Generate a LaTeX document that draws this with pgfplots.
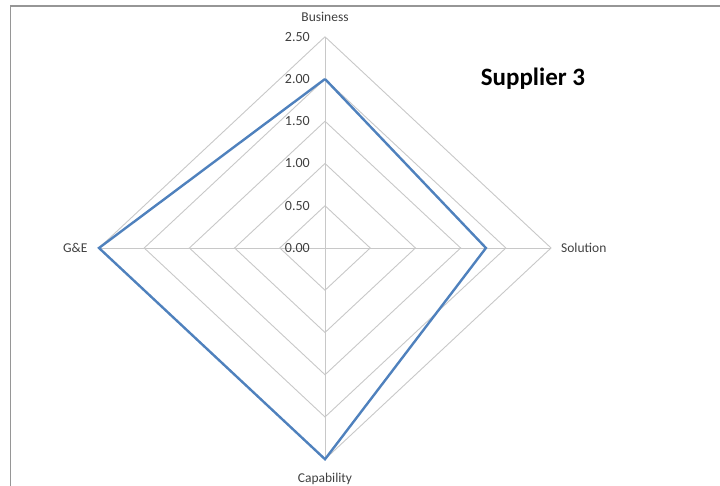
\documentclass[border=0pt]{standalone}
\usepackage{pgfplots}
\pgfplotsset{compat=1.18}
\usepackage{fontspec}
\setmainfont{Carlito}
\definecolor{serblue}{RGB}{79,129,189}
\definecolor{gridgray}{RGB}{200,200,200}
\definecolor{framegray}{RGB}{150,150,150}
\definecolor{txt}{RGB}{64,64,64}
\tikzset{
  tl/.style={anchor=east, text=txt, font=\fontsize{14bp}{16bp}\selectfont, inner sep=0pt},
  cl/.style={text=txt, font=\fontsize{13.5bp}{16bp}\selectfont, inner sep=0pt},
}
\begin{document}
\begin{tikzpicture}
\begin{axis}[
  scale only axis, width=720bp, height=486bp,
  xmin=-3.595, xmax=4.369, ymin=-2.817, ymax=2.935,
  hide axis, clip=false,
]
% frame (top and left edges)
\addplot[framegray, line width=1.5bp] coordinates {(-3.479,-2.817) (-3.479,2.864) (4.369,2.864)};
% grid diamonds
\addplot[gridgray, line width=0.9bp] coordinates {(0,0.5) (0.5,0) (0,-0.5) (-0.5,0) (0,0.5)};
\addplot[gridgray, line width=0.9bp] coordinates {(0,1.0) (1.0,0) (0,-1.0) (-1.0,0) (0,1.0)};
\addplot[gridgray, line width=0.9bp] coordinates {(0,1.5) (1.5,0) (0,-1.5) (-1.5,0) (0,1.5)};
\addplot[gridgray, line width=0.9bp] coordinates {(0,2.0) (2.0,0) (0,-2.0) (-2.0,0) (0,2.0)};
\addplot[gridgray, line width=0.9bp] coordinates {(0,2.5) (2.5,0) (0,-2.5) (-2.5,0) (0,2.5)};
% spokes
\addplot[gridgray, line width=0.9bp] coordinates {(0,2.5) (0,-2.5)};
\addplot[gridgray, line width=0.9bp] coordinates {(-2.5,0) (2.5,0)};
% data: Business, Solution, Capability, G&E
\addplot[serblue, line width=2.4bp, line join=miter] coordinates {(0,2.0) (1.78,0) (0,-2.5) (-2.5,0) (0,2.0)};
% tick labels
\node[tl] at (axis cs:-0.166,0) {0.00};
\node[tl] at (axis cs:-0.166,0.5) {0.50};
\node[tl] at (axis cs:-0.166,1.0) {1.00};
\node[tl] at (axis cs:-0.166,1.5) {1.50};
\node[tl] at (axis cs:-0.166,2.0) {2.00};
\node[tl] at (axis cs:-0.166,2.5) {2.50};
% axis category labels
\node[cl] at (axis cs:0,2.734) {Business};
\node[cl] at (axis cs:0,-2.734) {Capability};
\node[cl, anchor=west] at (axis cs:2.61,0) {Solution};
\node[cl, anchor=east] at (axis cs:-2.625,0) {G\&E};
% title
\node[font=\bfseries\fontsize{25bp}{29bp}\selectfont, inner sep=0pt] at (axis cs:2.30,2.004) {Supplier 3};
\end{axis}
\pgfresetboundingbox
\path (current axis.south west) rectangle (current axis.north east);
\end{tikzpicture}
\end{document}
